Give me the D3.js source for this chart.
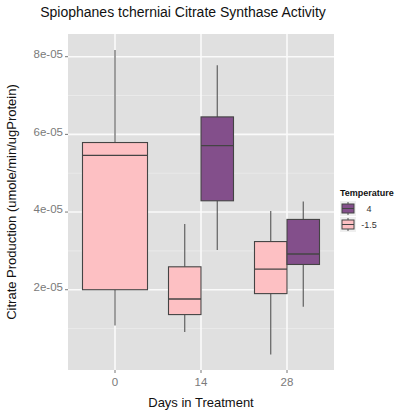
<!DOCTYPE html>
<html>
<head>
<meta charset="utf-8">
<script src="https://cdn.jsdelivr.net/npm/d3@7"></script>
<style>
  body { margin: 0; background: #fff; }
  text { font-family: "Liberation Sans", Arial, sans-serif; }
</style>
</head>
<body>
<svg id="chart" width="397" height="411"></svg>
<script>
// days on the x axis
const days = ["0", "14", "28"];
const temps = ["4", "-1.5"];
// box stats (min, q1, median, q3, max)
const coldBoxes = [
  { day: "0", min: 1.08e-5, q1: 2.0e-5, median: 5.46e-5, q3: 5.79e-5, max: 8.17e-5 },
  { day: "14", min: 0.91e-5, q1: 1.36e-5, median: 1.76e-5, q3: 2.59e-5, max: 3.69e-5 },
  { day: "28", min: 0.33e-5, q1: 1.90e-5, median: 2.53e-5, q3: 3.24e-5, max: 4.03e-5 }
];
const warmBoxes = [
  { day: "14", min: 3.02e-5, q1: 4.29e-5, median: 5.71e-5, q3: 6.45e-5, max: 7.78e-5 },
  { day: "28", min: 1.56e-5, q1: 2.65e-5, median: 2.92e-5, q3: 3.81e-5, max: 4.27e-5 }
];
const yTicks = [2e-5, 4e-5, 6e-5, 8e-5];
const yTickLabels = ["2e-05", "4e-05", "6e-05", "8e-05"];

const colors = { "4": "#834f8b", "-1.5": "#fdc0c3" };

const svg = d3.select("#chart");
const panel = { left: 68, right: 334, top: 34, bottom: 370 };

const x = d3.scalePoint().domain(days).range([115, 287]);
const y = d3.scaleLinear().domain([0, 8e-5]).range([367.4, 56.7]);

// panel background
svg.append("rect")
  .attr("x", panel.left).attr("y", panel.top)
  .attr("width", panel.right - panel.left).attr("height", panel.bottom - panel.top)
  .attr("fill", "#e0e0e0");

// minor grid
const minor = [1e-5, 3e-5, 5e-5, 7e-5];
svg.selectAll(".minor").data(minor).enter().append("line")
  .attr("x1", panel.left).attr("x2", panel.right)
  .attr("y1", d => y(d)).attr("y2", d => y(d))
  .attr("stroke", "#ececec").attr("stroke-width", 0.8);

// major grid
svg.selectAll(".hmajor").data(yTicks).enter().append("line")
  .attr("x1", panel.left).attr("x2", panel.right)
  .attr("y1", d => y(d)).attr("y2", d => y(d))
  .attr("stroke", "#fafafa").attr("stroke-width", 1.6);
svg.selectAll(".vmajor").data(days).enter().append("line")
  .attr("y1", panel.top).attr("y2", panel.bottom)
  .attr("x1", d => x(d)).attr("x2", d => x(d))
  .attr("stroke", "#fafafa").attr("stroke-width", 1.6);

// boxes
const half = 32.5;
const drawBox = function(d, left, w, fill) {
  const cx = left + w / 2;
  const g = svg.append("g");
  g.append("line")
    .attr("x1", cx).attr("x2", cx)
    .attr("y1", y(d.max)).attr("y2", y(d.q3))
    .attr("stroke", "#555").attr("stroke-width", 1.1);
  g.append("line")
    .attr("x1", cx).attr("x2", cx)
    .attr("y1", y(d.q1)).attr("y2", y(d.min))
    .attr("stroke", "#555").attr("stroke-width", 1.1);
  g.append("rect")
    .attr("x", left).attr("y", y(d.q3))
    .attr("width", w).attr("height", y(d.q1) - y(d.q3))
    .attr("fill", fill).attr("stroke", "#444").attr("stroke-width", 1.1);
  g.append("line")
    .attr("x1", left).attr("x2", left + w)
    .attr("y1", y(d.median)).attr("y2", y(d.median))
    .attr("stroke", "#444").attr("stroke-width", 1.4);
};

coldBoxes.forEach(d => {
  const hasWarm = warmBoxes.some(w => w.day === d.day);
  if (hasWarm) {
    drawBox(d, x(d.day) - half, half, colors["-1.5"]);
  } else {
    drawBox(d, x(d.day) - half, half * 2, colors["-1.5"]);
  }
});
warmBoxes.forEach(d => {
  drawBox(d, x(d.day), half, colors["4"]);
});

// y axis ticks and labels
svg.selectAll(".ytick").data(yTicks).enter().append("line")
  .attr("x1", panel.left - 3).attr("x2", panel.left)
  .attr("y1", d => y(d)).attr("y2", d => y(d))
  .attr("stroke", "#777");
svg.selectAll(".ylab").data(yTicks).enter().append("text")
  .attr("x", panel.left - 5).attr("y", d => y(d))
  .attr("dy", "0.1em")
  .attr("text-anchor", "end")
  .attr("font-size", 11.5).attr("fill", "#7a7a7a")
  .text((d, i) => yTickLabels[i]);

// x axis ticks and labels
svg.selectAll(".xtick").data(days).enter().append("line")
  .attr("y1", panel.bottom).attr("y2", panel.bottom + 3)
  .attr("x1", d => x(d)).attr("x2", d => x(d))
  .attr("stroke", "#777");
svg.selectAll(".xlab").data(days).enter().append("text")
  .attr("x", d => x(d)).attr("y", panel.bottom + 16)
  .attr("text-anchor", "middle")
  .attr("font-size", 11.5).attr("fill", "#7a7a7a")
  .text(d => d);

// titles
svg.append("text")
  .attr("x", 183).attr("y", 17)
  .attr("text-anchor", "middle")
  .attr("font-size", 14).attr("fill", "#111")
  .text("Spiophanes tcherniai Citrate Synthase Activity");
svg.append("text")
  .attr("x", 201).attr("y", 407)
  .attr("text-anchor", "middle")
  .attr("font-size", 13).attr("fill", "#111")
  .text("Days in Treatment");
svg.append("text")
  .attr("transform", "translate(16," + (panel.top + panel.bottom) / 2 + ") rotate(-90)")
  .attr("text-anchor", "middle")
  .attr("font-size", 13).attr("fill", "#111")
  .text("Citrate Production (umole/min/ugProtein)");

// legend
const legend = svg.append("g").attr("transform", "translate(340,186)");
legend.append("text")
  .attr("x", 0).attr("y", 10)
  .attr("font-size", 9).attr("font-weight", "bold").attr("fill", "#111")
  .text("Temperature");
temps.forEach((t, i) => {
  const ky = 15 + i * 16;
  legend.append("rect")
    .attr("x", 0).attr("y", ky).attr("width", 16).attr("height", 15)
    .attr("fill", "#efefef");
  legend.append("line")
    .attr("x1", 8).attr("x2", 8).attr("y1", ky + 1).attr("y2", ky + 14)
    .attr("stroke", "#555");
  legend.append("rect")
    .attr("x", 2).attr("y", ky + 3).attr("width", 12).attr("height", 9)
    .attr("fill", colors[t]).attr("stroke", "#444");
  legend.append("line")
    .attr("x1", 2).attr("x2", 14).attr("y1", ky + 7.5).attr("y2", ky + 7.5)
    .attr("stroke", "#444");
  legend.append("text")
    .attr("x", 29).attr("y", ky + 11)
    .attr("text-anchor", "middle")
    .attr("font-size", 9).attr("fill", "#333")
    .text(t);
});
</script>
</body>
</html>
